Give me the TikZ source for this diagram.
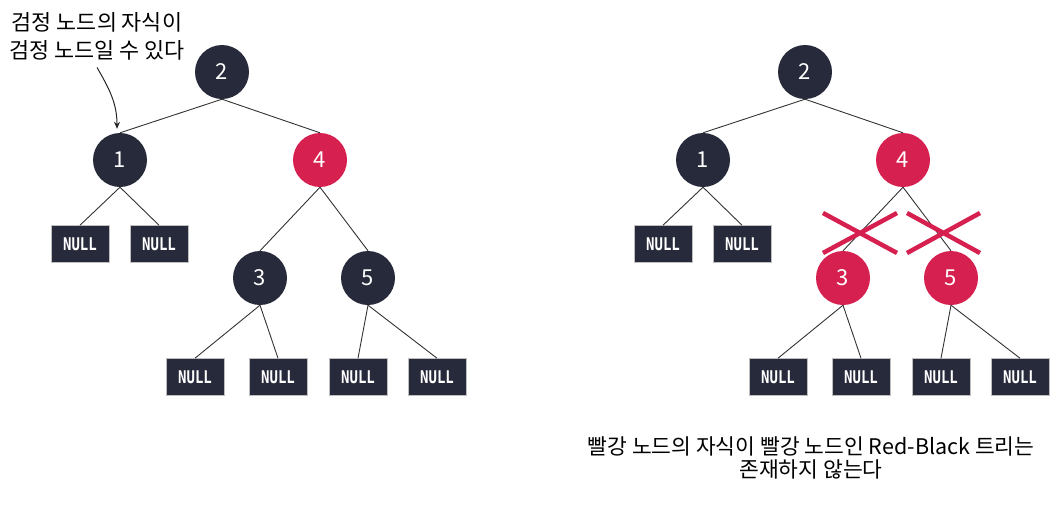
\documentclass[tikz,border=0pt]{standalone}
\usepackage{fontspec}
\setmainfont{Noto Sans}
\newfontfamily\krfont{Noto Sans CJK KR}
\newfontfamily\boxfont[FakeStretch=0.8]{DejaVu Sans Mono}
\usetikzlibrary{arrows.meta}
\definecolor{nodeblack}{HTML}{272A3A}
\definecolor{nodered}{HTML}{D6204F}
\tikzset{
    blacknode/.style = {
        circle,
        fill=nodeblack,
        minimum size=54pt,
        inner sep=0pt,
        text=white,
        font=\krfont\fontsize{22}{26}\selectfont
    },
    rednode/.style = {
        blacknode,
        fill=nodered
    },
    nullbox/.style = {
        rectangle,
        fill=nodeblack,
        draw=gray!50,
        line width=0.6pt,
        minimum width=58pt,
        minimum height=37pt,
        text=white,
        font=\boxfont\bfseries\fontsize{17.5}{20}\selectfont
    },
    branch/.style = {
        draw=black!80,
        line width=0.9pt
    },
    crossmark/.style = {
        draw=nodered,
        line width=4.5pt
    },
    pointer/.style = {
        draw=black!85,
        line width=1pt,
        -{Stealth[length=7pt, width=6pt]}
    }
}

\begin{document}
\begin{tikzpicture}[x=1pt, y=-1pt]
    \useasboundingbox (0,0) rectangle (1056,507);
    \foreach \side/\dx/\kind in {L/0/blacknode, R/583/rednode}{
        \node[blacknode] (\side2) at (222+\dx, 72) {2};
        \node[blacknode] (\side1) at (120+\dx, 160) {1};
        \node[rednode] (\side4) at (320+\dx, 160) {4};
        \node[\kind] (\side3) at (260+\dx, 278) {3};
        \node[\kind] (\side5) at (368+\dx, 278) {5};
        \node[nullbox] (\side1a) at (80+\dx, 244) {NULL};
        \node[nullbox] (\side1b) at (159+\dx, 244) {NULL};
        \node[nullbox] (\side3a) at (195+\dx, 377) {NULL};
        \node[nullbox] (\side3b) at (278+\dx, 377) {NULL};
        \node[nullbox] (\side5a) at (358+\dx, 377) {NULL};
        \node[nullbox] (\side5b) at (437+\dx, 377) {NULL};
        \foreach \p/\c in {2/1, 2/4, 1/1a, 1/1b, 4/3, 4/5, 3/3a, 3/3b, 5/5a, 5/5b}{
            \draw[branch] (\side\p.south) -- (\side\c.north);
        }
    }
    % no red child under a red parent
    \draw[crossmark] (823,213) -- (897,253) (823,253) -- (897,213);
    \draw[crossmark] (907,213) -- (980,253) (907,253) -- (980,213);

    \node[align=center, font=\krfont\fontsize{21.8}{28}\selectfont] (topnote) at (97,36)
        {검정 노드의 자식이\\검정 노드일 수 있다};
    \draw[pointer] ([yshift=-4pt]topnote.south) to[out=-60, in=90] ([xshift=-3pt, yshift=4pt]L1.north);

    \node[align=center, font=\krfont\fontsize{21.5}{23}\selectfont] (bottomnote) at (811,458)
        {빨강 노드의 자식이 빨강 노드인 Red-Black 트리는\\존재하지 않는다};
\end{tikzpicture}
\end{document}
